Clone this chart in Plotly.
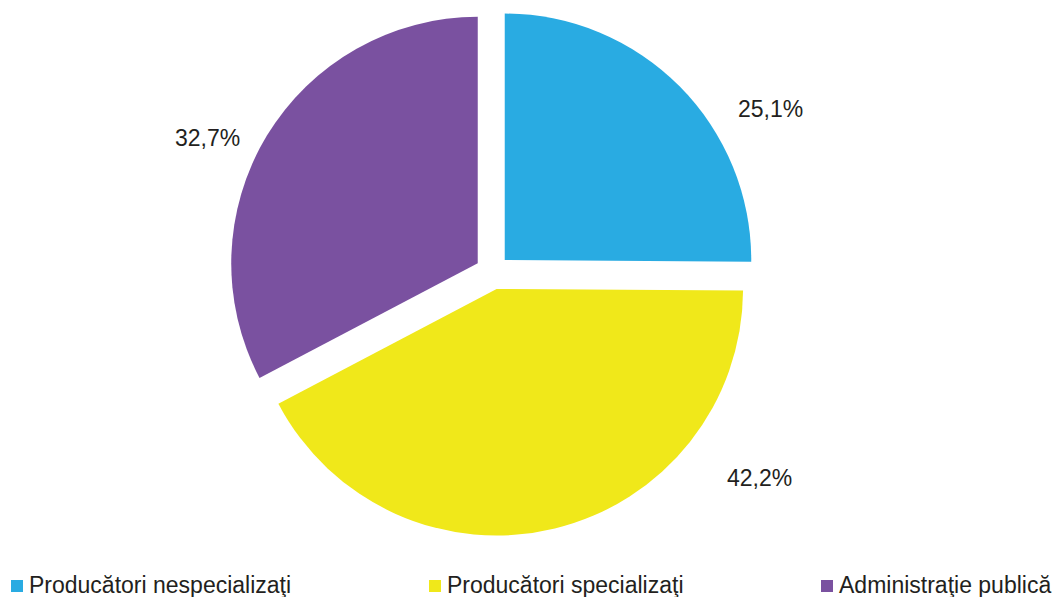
import plotly.graph_objects as go

W, H = 1053, 597

categories = ["Producători nespecializaţi", "Producători specializaţi", "Administraţie publică"]
shares = [25.1, 42.2, 32.7]
colors = ["#29ABE2", "#F0E81A", "#7A51A0"]

# where the percentage labels sit (pixels from top-left)
label_px = [(770, 109), (759, 478), (207, 138)]
# left edge of each legend swatch (pixels)
legend_px = [11, 429, 821]

fig = go.Figure(
    go.Pie(
        labels=categories,
        values=shares,
        marker=dict(colors=colors, line=dict(width=0)),
        sort=False,
        direction="clockwise",
        rotation=0,
        pull=[0.07] * 3,
        textinfo="none",
        hoverinfo="label+percent",
        showlegend=False,
        domain=dict(x=[0, 985 / W], y=[1 - 536 / H, 1 - 8.5 / H]),
    )
)

for v, (px, py) in zip(shares, label_px):
    fig.add_annotation(
        x=px / W, y=1 - py / H, xref="paper", yref="paper",
        xanchor="center", yanchor="middle",
        text=f"{v:.1f}%".replace(".", ","),
        showarrow=False,
        font=dict(size=23, color="#231F20"),
    )

# legend drawn by hand so the three entries sit where the original has them
for name, col, lx in zip(categories, colors, legend_px):
    fig.add_shape(
        type="rect", xref="paper", yref="paper",
        x0=lx / W, x1=(lx + 12) / W, y0=1 - 592 / H, y1=1 - 580 / H,
        fillcolor=col, line=dict(width=0),
    )
    fig.add_annotation(
        x=(lx + 16) / W, y=1 - 585 / H, xref="paper", yref="paper",
        xanchor="left", yanchor="middle",
        text=name, showarrow=False,
        font=dict(size=23, color="#231F20"),
    )

fig.update_layout(
    width=W,
    height=H,
    margin=dict(l=0, r=0, t=0, b=0),
    paper_bgcolor="white",
    font=dict(family="Liberation Sans, Arial, sans-serif", color="#231F20"),
    showlegend=False,
)

# page body has an 8px default margin, drop it so the chart fills the window
fig.write_html(
    "out.html",
    config={"displayModeBar": False},
    post_script="document.body.style.margin = '0';",
)
